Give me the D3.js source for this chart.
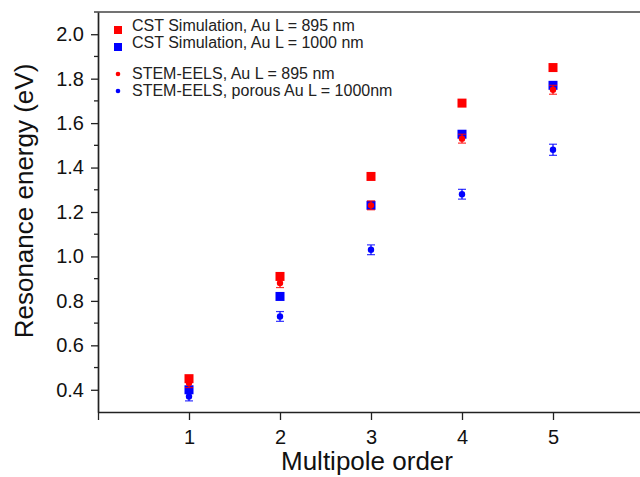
<!DOCTYPE html>
<html lang="en">
<head>
<meta charset="UTF-8">
<title>Resonance energy vs multipole order</title>
<script src="https://d3js.org/d3.v7.min.js"></script>
<style>
  body, html { margin: 0; background: #fff; }
  svg { display: block; font-family: "Liberation Sans", Arial, sans-serif; }
  .axis path, .axis line { stroke: #222; }
  .axis text { font-size: 20px; fill: #111; font-family: "Liberation Sans", Arial, sans-serif; }
  .legend text { font-size: 16px; fill: #222; }
  .title { font-size: 26px; fill: #111; }
</style>
</head>
<body>
<svg width="640" height="477"></svg>
<script>
// multipole orders
const orders = [1, 2, 3, 4, 5];

// CST simulations
const cst895 = [0.45, 0.91, 1.36, 1.69, 1.85];
const cst1000 = [0.40, 0.82, 1.23, 1.55, 1.77];

// STEM-EELS measurements and their errors
const eels895 = [0.43, 0.88, 1.23, 1.53, 1.75];
const eels895Err = [0.02, 0.02, 0.02, 0.02, 0.02];
const eelsPorous = [0.37, 0.73, 1.03, 1.28, 1.48];
const eelsPorousErr = [0.02, 0.022, 0.022, 0.022, 0.025];

const yMajor = [0.4, 0.6, 0.8, 1.0, 1.2, 1.4, 1.6, 1.8, 2.0];
const yMinor = [0.5, 0.7, 0.9, 1.1, 1.3, 1.5, 1.7, 1.9, 2.1];

const legendItems = [
  {label: "CST Simulation, Au L = 895 nm", color: "#ff0000", shape: "square"},
  {label: "CST Simulation, Au L = 1000 nm", color: "#0000ff", shape: "square"},
  {label: "STEM-EELS, Au L = 895 nm", color: "#ff0000", shape: "dot"},
  {label: "STEM-EELS, porous Au L = 1000nm", color: "#0000ff", shape: "dot"}
];

const svg = d3.select("svg");
const plotLeft = 98, plotTop = 12, plotBottom = 412;

const x = d3.scaleLinear().domain([0, 6]).range([plotLeft, 644]);
const y = d3.scaleLinear().domain([0.3, 2.1]).range([plotBottom, plotTop]);

// frame top line
svg.append("line")
  .attr("x1", plotLeft).attr("x2", 640)
  .attr("y1", plotTop).attr("y2", plotTop)
  .attr("stroke", "#444").attr("stroke-width", 1.5);

// y axis
const yAxis = svg.append("g").attr("class", "axis")
  .attr("transform", `translate(${plotLeft},0)`)
  .call(d3.axisLeft(y).tickValues(yMajor).tickSize(7).tickPadding(7)
    .tickFormat(d3.format(".1f")).tickSizeOuter(0));
yAxis.select(".domain").attr("stroke-width", 1.7);
yAxis.selectAll(".tick line").attr("stroke-width", 1.3);

svg.append("g").attr("class", "axis")
  .attr("transform", `translate(${plotLeft},0)`)
  .selectAll("line").data(yMinor).join("line")
  .attr("x1", -4).attr("x2", 0)
  .attr("y1", d => y(d)).attr("y2", d => y(d))
  .attr("stroke-width", 1.3);

// x axis
const xAxis = svg.append("g").attr("class", "axis")
  .attr("transform", `translate(0,${plotBottom})`)
  .call(d3.axisBottom(x).tickValues([0, 1, 2, 3, 4, 5, 6]).tickSize(8).tickPadding(10)
    .tickFormat(d => (d >= 1 && d <= 5) ? d : "").tickSizeOuter(0));
xAxis.select(".domain").attr("stroke-width", 1.7);
xAxis.selectAll(".tick line").attr("stroke-width", 1.3);

// axis titles
svg.append("text").attr("class", "title")
  .attr("x", 367).attr("y", 470)
  .attr("text-anchor", "middle")
  .text("Multipole order");

svg.append("text").attr("class", "title")
  .attr("transform", "translate(33,201) rotate(-90)")
  .attr("text-anchor", "middle")
  .text("Resonance energy (eV)");

// markers
const sq = 9;
function squares(vals, color) {
  svg.append("g").selectAll("rect").data(vals).join("rect")
    .attr("x", (d, i) => x(orders[i]) - sq / 2)
    .attr("y", d => y(d) - sq / 2)
    .attr("width", sq).attr("height", sq)
    .attr("fill", color);
}
function dotsWithErr(vals, errs, color) {
  const g = svg.append("g");
  vals.forEach((v, i) => {
    const cx = x(orders[i]);
    const y0 = y(v - errs[i]), y1 = y(v + errs[i]);
    g.append("line").attr("x1", cx).attr("x2", cx).attr("y1", y0).attr("y2", y1)
      .attr("stroke", color).attr("stroke-width", 1.2);
    [y0, y1].forEach(yy => g.append("line")
      .attr("x1", cx - 4).attr("x2", cx + 4).attr("y1", yy).attr("y2", yy)
      .attr("stroke", color).attr("stroke-width", 1.2).attr("opacity", 0.8));
    g.append("circle").attr("cx", cx).attr("cy", y(v)).attr("r", 3.2).attr("fill", color);
  });
}

squares(cst895, "#ff0000");
squares(cst1000, "#0000ff");
dotsWithErr(eels895, eels895Err, "#ff0000");
dotsWithErr(eelsPorous, eelsPorousErr, "#0000ff");

// legend
const legendY = [25, 42, 73, 90];
const legend = svg.append("g").attr("class", "legend");
legendItems.forEach((item, i) => {
  const ly = legendY[i];
  if (item.shape === "square") {
    legend.append("rect").attr("x", 114).attr("y", ly + 1).attr("width", 8).attr("height", 8)
      .attr("fill", item.color);
  } else {
    legend.append("circle").attr("cx", 118).attr("cy", ly + 1).attr("r", 2.3)
      .attr("fill", item.color);
  }
  legend.append("text").attr("x", 132).attr("y", ly).attr("dy", "0.35em").text(item.label);
});
</script>
</body>
</html>
